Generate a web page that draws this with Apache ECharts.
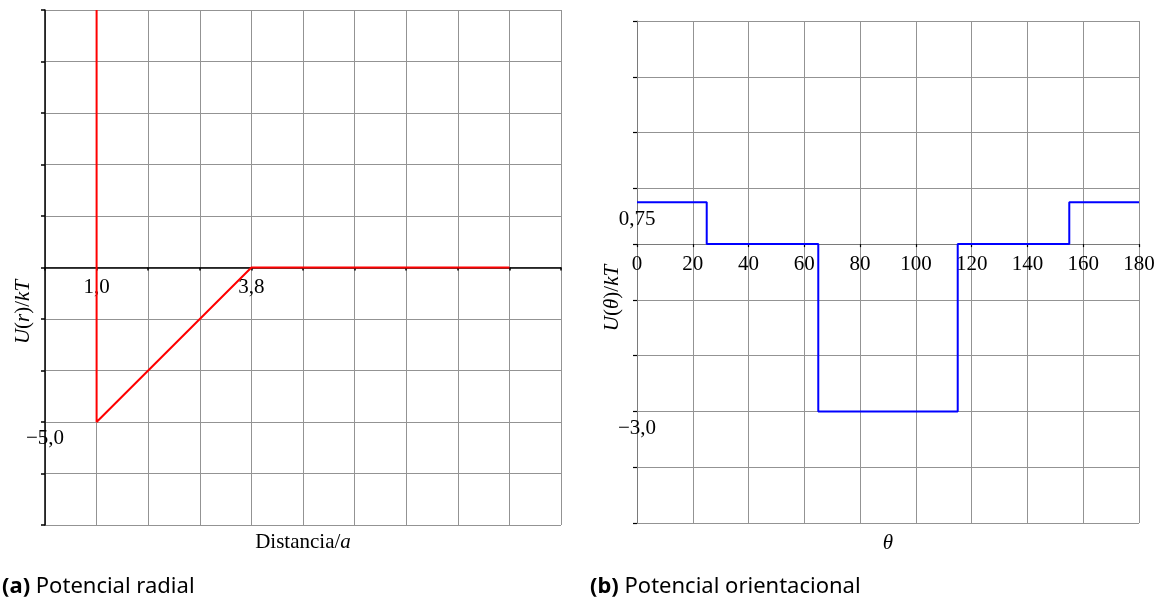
<!DOCTYPE html>
<html>
<head>
<meta charset="utf-8">
<script src="https://cdn.jsdelivr.net/npm/echarts@6/dist/echarts.min.js"></script>
<style>
  html, body { margin: 0; padding: 0; background: #fff; }
  #chart { width: 1159px; height: 599px; }
</style>
</head>
<body>
<div id="chart"></div>
<script>
// (a) radial potential: hard wall at r = 1.0, linear well from -5 kT up to 0 at r = 3.8
const radialR = [1.0, 1.0, 3.8, 8.4667];
const radialU = [8.3333, -5.0, 0, 0];
const radialXLabels = [1.0, 3.8];
const radialYLabels = [-5.0];
// grid of panel (a): one square every (3.8 - 1.0) / 3 in r and every 5/3 in U
const radialXTicks = [0.0667, 1.0, 1.9333, 2.8667, 3.8, 4.7333, 5.6667, 6.6, 7.5333, 8.4667, 9.4];
const radialYTicks = [-8.3333, -6.6667, -5.0, -3.3333, -1.6667, 0, 1.6667, 3.3333, 5.0, 6.6667, 8.3333];

// (b) orientational potential, piecewise constant in theta
const angles = [0, 25, 25, 65, 65, 115, 115, 155, 155, 180];
const orientU = [0.75, 0.75, 0, 0, -3.0, -3.0, 0, 0, 0.75, 0.75];
const orientYLabels = [0.75, -3.0];

const SERIF = "Liberation Serif";
const SANS = "Noto Sans";
const GRID_GREY = "#939393";

// 1.0 -> "1,0", -3 -> "−3,0", 0.75 -> "0,75"
function comma(v) {
  const s = String(v).split(".");
  const d = s.length > 1 ? s[1].length : 1;
  return (v < 0 ? "\u2212" : "") + Math.abs(v).toFixed(d).replace(".", ",");
}

const numLabel = {
  fontFamily: SERIF,
  fontSize: 21,
  color: "#000",
};

const chart = echarts.init(document.getElementById("chart"));

// the x axes sit on U = 0; pull them up from the grid bottom to that line
const gridA = { left: 45, top: 10, width: 516, height: 515 };
const gridB = { left: 637, top: 21, width: 502, height: 502 };
const zeroA = gridA.height / 2;
const zeroB = gridB.height * 5 / 9;

const option = {
  animation: false,
  backgroundColor: "#fff",
  grid: [gridA, gridB],
  xAxis: [
    {
      gridIndex: 0,
      type: "value",
      min: radialXTicks[0],
      max: radialXTicks[radialXTicks.length - 1],
      offset: -zeroA,
      axisLine: { onZero: false, lineStyle: { color: "#000", width: 1.5 } },
      axisTick: {
        customValues: radialXTicks,
        length: 3,
        lineStyle: { color: "#000", width: 1.5 },
      },
      splitLine: { show: true, lineStyle: { color: GRID_GREY, width: 1 } },
      axisLabel: {
        ...numLabel,
        customValues: radialXLabels,
        formatter: comma,
        margin: 9,
      },
    },
    {
      gridIndex: 1,
      type: "value",
      min: 0,
      max: 180,
      interval: 20,
      offset: -zeroB,
      axisLine: { onZero: false, lineStyle: { color: "#7a7a7a", width: 1 } },
      axisTick: { length: 3, lineStyle: { color: "#000", width: 1.2 } },
      splitLine: { show: true, lineStyle: { color: GRID_GREY, width: 1 } },
      axisLabel: { ...numLabel, margin: 10 },
    },
  ],
  yAxis: [
    {
      gridIndex: 0,
      type: "value",
      min: radialYTicks[0],
      max: radialYTicks[radialYTicks.length - 1],
      axisLine: { show: true, onZero: false, lineStyle: { color: "#000", width: 1.5 } },
      axisTick: {
        show: true,
        customValues: radialYTicks,
        length: 4,
        lineStyle: { color: "#000", width: 1.5 },
      },
      splitLine: { show: true, lineStyle: { color: GRID_GREY, width: 1 } },
      axisLabel: {
        ...numLabel,
        customValues: radialYLabels,
        formatter: comma,
        align: "center",
        verticalAlign: "top",
        margin: 0,
        padding: [6, 0, 0, 0],
      },
    },
    {
      gridIndex: 1,
      type: "value",
      min: -5,
      max: 4,
      interval: 1,
      axisLine: { show: true, onZero: false, lineStyle: { color: "#7a7a7a", width: 1 } },
      axisTick: { show: true, length: 4, lineStyle: { color: "#000", width: 1.2 } },
      splitLine: { show: true, lineStyle: { color: GRID_GREY, width: 1 } },
      axisLabel: {
        ...numLabel,
        customValues: orientYLabels,
        formatter: comma,
        align: "center",
        verticalAlign: "top",
        margin: 0,
        padding: [7, 0, 0, 0],
      },
    },
  ],
  series: [
    {
      name: "U(r)/kT",
      type: "line",
      xAxisIndex: 0,
      yAxisIndex: 0,
      data: radialR.map((r, i) => [r, radialU[i]]),
      showSymbol: false,
      lineStyle: { color: "#ff0000", width: 2 },
      z: 5,
    },
    {
      name: "U(θ)/kT",
      type: "line",
      xAxisIndex: 1,
      yAxisIndex: 1,
      data: angles.map((a, i) => [a, orientU[i]]),
      showSymbol: false,
      lineStyle: { color: "#0000ff", width: 2 },
      z: 5,
    },
  ],
  graphic: [
    {
      type: "text",
      x: 303,
      y: 542,
      style: {
        text: "Distancia/{i|a}",
        font: "21px " + SERIF,
        fill: "#000",
        align: "center",
        verticalAlign: "middle",
        rich: { i: { fontStyle: "italic", fontFamily: SERIF, fontSize: 21 } },
      },
    },
    {
      type: "text",
      x: 888,
      y: 543,
      style: {
        text: "θ",
        font: "italic 21px " + SERIF,
        fill: "#000",
        align: "center",
        verticalAlign: "middle",
      },
    },
    {
      type: "text",
      x: 23,
      y: 312,
      rotation: Math.PI / 2,
      style: {
        text: "{i|U}({i|r})/{i|kT}",
        font: "21px " + SERIF,
        fill: "#000",
        align: "center",
        verticalAlign: "middle",
        rich: { i: { fontStyle: "italic", fontFamily: SERIF, fontSize: 21 } },
      },
    },
    {
      type: "text",
      x: 612,
      y: 298,
      rotation: Math.PI / 2,
      style: {
        text: "{i|U}({i|θ})/{i|kT}",
        font: "21px " + SERIF,
        fill: "#000",
        align: "center",
        verticalAlign: "middle",
        rich: { i: { fontStyle: "italic", fontFamily: SERIF, fontSize: 21 } },
      },
    },
    {
      type: "text",
      x: 2,
      y: 587,
      style: {
        text: "{b|(a)} Potencial radial",
        font: "22px " + SANS,
        fill: "#000",
        align: "left",
        verticalAlign: "middle",
        rich: { b: { fontWeight: "bold", fontFamily: SANS, fontSize: 22 } },
      },
    },
    {
      type: "text",
      x: 590,
      y: 587,
      style: {
        text: "{b|(b)} Potencial orientacional",
        font: "22px " + SANS,
        fill: "#000",
        align: "left",
        verticalAlign: "middle",
        rich: { b: { fontWeight: "bold", fontFamily: SANS, fontSize: 22 } },
      },
    },
  ],
};

chart.setOption(option);
</script>
</body>
</html>
